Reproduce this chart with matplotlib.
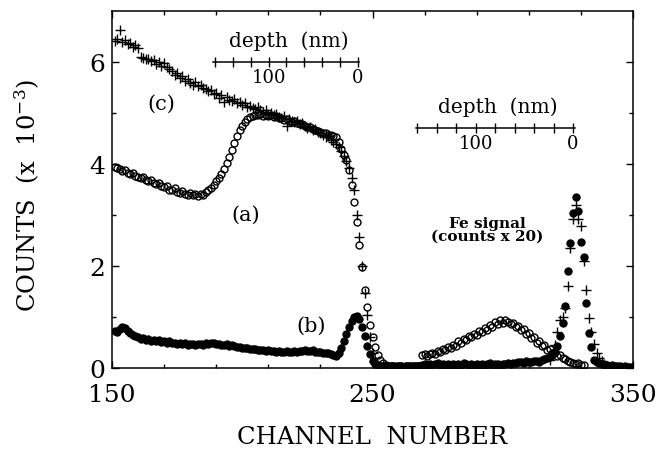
import numpy as np
import matplotlib
matplotlib.use("Agg")
import matplotlib.pyplot as plt
from matplotlib.ticker import FixedLocator

plt.rcParams['font.family'] = ['DejaVu Serif']
plt.rcParams['mathtext.fontset'] = 'dejavuserif'

# === DATA ===
# (a) open circles, channels 151..331
chan_a = np.arange(151, 332)
counts_a = [
    3.95, 3.92, 3.90, 3.86, 3.88, 3.83, 3.80, 3.82, 3.76, 3.74,   # 151-160
    3.72, 3.75, 3.68, 3.66, 3.68, 3.62, 3.60, 3.63, 3.56, 3.55,   # 161-170
    3.57, 3.50, 3.49, 3.52, 3.46, 3.44, 3.47, 3.42, 3.40, 3.43,   # 171-180
    3.39, 3.41, 3.38, 3.42, 3.40, 3.45, 3.50, 3.53, 3.59, 3.66,   # 181-190
    3.72, 3.80, 3.90, 4.02, 4.14, 4.28, 4.42, 4.55, 4.66, 4.75,   # 191-200
    4.82, 4.88, 4.92, 4.95, 4.97, 4.96, 4.98, 4.95, 4.97, 4.94,   # 201-210
    4.96, 4.92, 4.94, 4.90, 4.91, 4.87, 4.89, 4.85, 4.83, 4.84,   # 211-220
    4.80, 4.78, 4.79, 4.74, 4.72, 4.73, 4.68, 4.66, 4.64, 4.62,   # 221-230
    4.60, 4.61, 4.57, 4.56, 4.54, 4.52, 4.44, 4.30, 4.18, 4.08,   # 231-240
    3.88, 3.59, 3.26, 2.87, 2.41, 1.99, 1.53, 1.20, 0.84, 0.61,   # 241-250
    0.42, 0.26, 0.15, 0.09, 0.06, 0.04, 0.03, 0.03, 0.04, 0.03,   # 251-260
    0.03, 0.02, 0.03, 0.03, 0.02, 0.03, 0.03, 0.04, 0.25, 0.27,   # 261-270
    0.24, 0.28, 0.30, 0.27, 0.33, 0.31, 0.37, 0.35, 0.42, 0.40,   # 271-280
    0.46, 0.44, 0.52, 0.50, 0.57, 0.55, 0.62, 0.60, 0.67, 0.64,   # 281-290
    0.72, 0.70, 0.78, 0.74, 0.84, 0.80, 0.90, 0.86, 0.94, 0.88,   # 291-300
    0.95, 0.90, 0.86, 0.89, 0.80, 0.82, 0.74, 0.76, 0.66, 0.68,   # 301-310
    0.58, 0.60, 0.50, 0.52, 0.43, 0.45, 0.36, 0.38, 0.30, 0.32,   # 311-320
    0.24, 0.26, 0.19, 0.17, 0.13, 0.11, 0.10, 0.08, 0.09, 0.06,   # 321-330
    0.05,                                                         # 331
]

# (b) filled circles, channels 151..350
chan_b = np.arange(151, 351)
counts_b = [
    0.72, 0.70, 0.76, 0.80, 0.78, 0.72, 0.68, 0.64, 0.62, 0.60,   # 151-160
    0.57, 0.58, 0.55, 0.56, 0.53, 0.54, 0.52, 0.55, 0.51, 0.52,   # 161-170
    0.50, 0.52, 0.49, 0.50, 0.48, 0.50, 0.47, 0.49, 0.46, 0.48,   # 171-180
    0.47, 0.45, 0.47, 0.48, 0.46, 0.49, 0.48, 0.50, 0.49, 0.47,   # 181-190
    0.48, 0.46, 0.45, 0.47, 0.44, 0.45, 0.43, 0.42, 0.41, 0.40,   # 191-200
    0.39, 0.40, 0.38, 0.37, 0.38, 0.36, 0.35, 0.36, 0.34, 0.35,   # 201-210
    0.33, 0.34, 0.32, 0.33, 0.31, 0.32, 0.34, 0.32, 0.31, 0.33,   # 211-220
    0.32, 0.34, 0.33, 0.35, 0.34, 0.33, 0.35, 0.32, 0.31, 0.32,   # 221-230
    0.30, 0.29, 0.30, 0.27, 0.25, 0.24, 0.30, 0.40, 0.53, 0.67,   # 231-240
    0.80, 0.92, 1.00, 1.02, 0.96, 0.80, 0.62, 0.44, 0.27, 0.14,   # 241-250
    0.07, 0.05, 0.04, 0.03, 0.03, 0.02, 0.03, 0.03, 0.02, 0.03,   # 251-260
    0.03, 0.02, 0.03, 0.04, 0.03, 0.03, 0.04, 0.03, 0.05, 0.07,   # 261-270
    0.06, 0.08, 0.05, 0.07, 0.09, 0.06, 0.08, 0.05, 0.07, 0.06,   # 271-280
    0.08, 0.05, 0.07, 0.06, 0.09, 0.07, 0.05, 0.08, 0.06, 0.07,   # 281-290
    0.05, 0.08, 0.06, 0.07, 0.09, 0.06, 0.08, 0.07, 0.05, 0.08,   # 291-300
    0.07, 0.09, 0.08, 0.10, 0.09, 0.11, 0.12, 0.10, 0.13, 0.12,   # 301-310
    0.11, 0.14, 0.13, 0.12, 0.15, 0.17, 0.20, 0.22, 0.25, 0.32,   # 311-320
    0.44, 0.62, 0.88, 1.22, 1.91, 2.45, 3.03, 3.36, 3.08, 2.48,   # 321-330
    2.18, 1.28, 0.68, 0.42, 0.16, 0.12, 0.10, 0.08, 0.06, 0.05,   # 331-340
    0.04, 0.05, 0.03, 0.04, 0.03, 0.02, 0.03, 0.02, 0.02, 0.02,   # 341-350
]

# (c) plus signs, main part channels 151..252 and Fe peak 318..339
chan_c = np.arange(151, 253)
counts_c = [
    6.42, 6.45, 6.62, 6.40, 6.43, 6.36, 6.38, 6.30, 6.33, 6.27,   # 151-160
    6.10, 6.08, 6.06, 6.05, 6.02, 6.04, 5.97, 6.00, 5.93, 5.98,   # 161-170
    5.90, 5.86, 5.83, 5.75, 5.78, 5.68, 5.72, 5.63, 5.66, 5.58,   # 171-180
    5.55, 5.60, 5.52, 5.54, 5.50, 5.48, 5.44, 5.45, 5.38, 5.40,   # 181-190
    5.30, 5.36, 5.22, 5.32, 5.26, 5.24, 5.28, 5.20, 5.22, 5.16,   # 191-200
    5.20, 5.12, 5.14, 5.10, 5.08, 5.12, 5.05, 5.02, 5.06, 4.98,   # 201-210
    5.00, 4.96, 4.98, 4.92, 4.90, 4.94, 4.74, 4.88, 4.85, 4.82,   # 211-220
    4.84, 4.78, 4.80, 4.74, 4.70, 4.73, 4.66, 4.68, 4.62, 4.60,   # 221-230
    4.56, 4.52, 4.55, 4.47, 4.44, 4.40, 4.34, 4.26, 4.16, 4.05,   # 231-240
    3.92, 3.73, 3.49, 3.00, 2.57, 2.00, 1.47, 1.04, 0.60, 0.30,   # 241-250
    0.12, 0.05,                                                   # 251-252
]
chan_c_fe = np.arange(318, 340)
counts_c_fe = [
    0.15, 0.25, 0.45, 0.70, 0.94, 1.00, 1.18, 1.61, 2.35, 2.92,   # 318-327
    3.20, 2.92, 2.78, 2.10, 1.52, 0.99, 0.70, 0.48, 0.30, 0.19,   # 328-337
    0.14, 0.08,                                                   # 338-339
]

# depth scales (nm)
depth_ticks = np.arange(0, 161, 20)
depth_labels = {100: "100", 0: "0"}

# === FIGURE ===
fig = plt.figure(figsize=(6.57, 4.56), dpi=100)
ax = fig.add_axes([112 / 657, 1 - 369 / 456, 521 / 657, 357 / 456])

ax.plot(chan_a, counts_a, linestyle='none', marker='o', ms=5.0,
        mfc='none', mec='black', mew=1.0)
ax.plot(chan_b, counts_b, linestyle='none', marker='o', ms=5.2,
        mfc='black', mec='black', mew=0.8)
ax.plot(chan_c, counts_c, linestyle='none', marker='+', ms=7,
        color='black', mew=1.0)
ax.plot(chan_c_fe, counts_c_fe, linestyle='none', marker='+', ms=7,
        color='black', mew=1.0)

ax.set_xlim(150, 350)
ax.set_ylim(0, 7)
ax.set_xticks([150, 250, 350])
ax.xaxis.set_minor_locator(FixedLocator([170, 190, 210, 230, 270, 290, 310, 330]))
ax.set_yticks([0, 2, 4, 6])
ax.yaxis.set_minor_locator(FixedLocator([1, 3, 5]))
ax.tick_params(which='both', direction='in', top=True, right=True, width=1.0)
ax.tick_params(which='major', length=5)
ax.tick_params(which='minor', length=3)
ax.tick_params(axis='x', labelsize=18, pad=11)
ax.tick_params(axis='y', labelsize=18, pad=5)
for s in ax.spines.values():
    s.set_linewidth(1.1)

ax.set_xlabel("CHANNEL  NUMBER", fontsize=17.5)
ax.xaxis.set_label_coords(0.5, -0.16)
ax.set_ylabel(r"COUNTS  (x  10$^{-3}$)", fontsize=17.5)
ax.yaxis.set_label_coords(-0.134, 0.487)

# --- curve labels ---
ax.text(169, 5.2, "(c)", fontsize=15, ha='center', va='center')
ax.text(201.5, 3.02, "(a)", fontsize=15, ha='center', va='center')
ax.text(226.5, 0.83, "(b)", fontsize=15, ha='center', va='center')
ax.text(294, 2.72, "Fe signal\n(counts x 20)", fontsize=11, fontweight='bold',
        ha='center', va='center', linespacing=0.95)

# --- depth scale bars ---
def depth_bar(ch_zero, ch_per_nm, yval):
    xs = ch_zero - depth_ticks * ch_per_nm
    ax.plot([xs[-1] - 0.6, xs[0] + 0.6], [yval, yval], color='black', lw=1.1)
    ax.plot(xs, np.full(len(xs), yval), linestyle='none', marker='|',
            ms=7, mew=1.0, color='black')
    for d, lab in depth_labels.items():
        ax.annotate(lab, (ch_zero - d * ch_per_nm, yval), xytext=(0, -4),
                    textcoords='offset points', ha='center', va='top', fontsize=13)
    ax.annotate("depth  (nm)", ((xs[0] + xs[-1]) / 2 + 1, yval), xytext=(0, 9),
                textcoords='offset points', ha='center', va='bottom', fontsize=14.5)

depth_bar(244.4, 0.343, 6.0)
depth_bar(327.0, 0.374, 4.7)

fig.savefig("out.png", dpi=100)
